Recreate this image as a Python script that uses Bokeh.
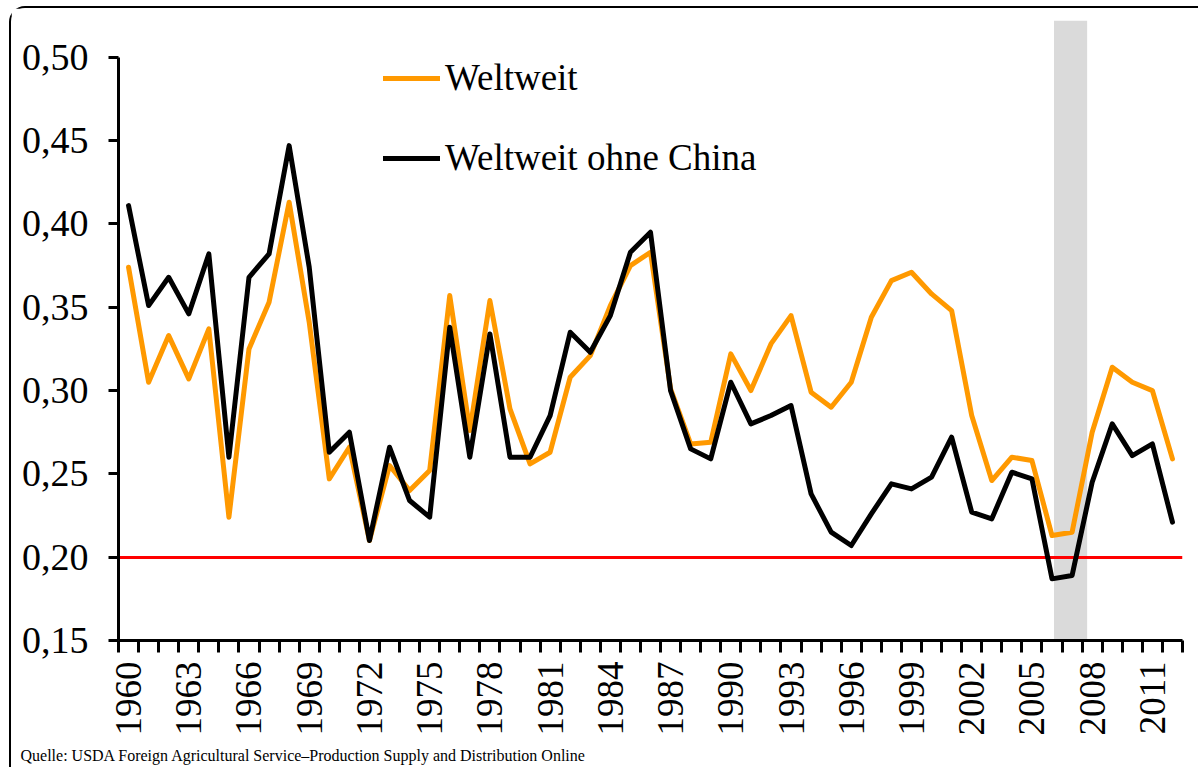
import math
from bokeh.plotting import figure
from bokeh.models import (FixedTicker, CustomJSTickFormatter, Legend, LegendItem,
                          Title)
from bokeh.embed import file_html
from bokeh.resources import INLINE

# ---------------- data ----------------
years = list(range(1960, 2013))
weltweit = [0.374, 0.305, 0.333, 0.307, 0.337, 0.224, 0.325, 0.353, 0.413, 0.341,
            0.247, 0.266, 0.210, 0.255, 0.240, 0.252, 0.357, 0.276, 0.354, 0.289,
            0.256, 0.263, 0.308, 0.321, 0.351, 0.375, 0.383, 0.301, 0.268, 0.269,
            0.322, 0.300, 0.328, 0.345, 0.299, 0.290, 0.305, 0.344, 0.366, 0.371,
            0.358, 0.348, 0.285, 0.246, 0.260, 0.258, 0.213, 0.215, 0.275, 0.314,
            0.305, 0.300, 0.259]
ohne_china = [0.411, 0.351, 0.368, 0.346, 0.382, 0.260, 0.368, 0.382, 0.447, 0.374,
              0.263, 0.275, 0.210, 0.266, 0.234, 0.224, 0.338, 0.260, 0.334, 0.260,
              0.260, 0.285, 0.335, 0.323, 0.345, 0.383, 0.395, 0.300, 0.265, 0.259,
              0.305, 0.280, 0.285, 0.291, 0.238, 0.215, 0.207, 0.226, 0.244, 0.241,
              0.248, 0.272, 0.227, 0.223, 0.251, 0.247, 0.187, 0.189, 0.245, 0.280,
              0.261, 0.268, 0.221]
x_tick_years = years[::3]
y_ticks = [0.15, 0.20, 0.25, 0.30, 0.35, 0.40, 0.45, 0.50]
threshold = [0.20]
band_start = [2006.1]
band_end = [2007.75]
legend_labels = ["Weltweit", "Weltweit ohne China"]
source_note = "Quelle: USDA Foreign Agricultural Service\u2013Production Supply and Distribution Online"

y_min, y_max = 0.15, 0.5221
x_min, x_max = years[0] - 0.5, years[-1] + 0.5
boundaries = [y - 0.5 for y in years] + [years[-1] + 0.5]

FONT = "Liberation Serif"
ORANGE = "#FF9900"

p = figure(width=1189, height=761, output_backend="svg", toolbar_location=None,
           x_range=(x_min, x_max), y_range=(y_min, y_max),
           min_border_left=107, min_border_right=18, min_border_top=12,
           min_border_bottom=127)
p.styles = {"border-top": "2px solid black", "border-left": "2px solid black",
            "border-top-left-radius": "16px", "margin-left": "9px",
            "margin-top": "6px"}

p.xgrid.visible = False
p.ygrid.visible = False
p.outline_line_color = None
p.background_fill_color = "white"
p.border_fill_color = "white"

# grey band
p.quad(left=band_start, right=band_end, bottom=[y_min], top=[y_max],
       fill_color="#DADADA", line_color=None)
# red threshold
p.hspan(y=threshold, line_color="#FF0000", line_width=3)

r1 = p.line(years, weltweit, line_color=ORANGE, line_width=5,
            line_join="round", line_cap="round")
r2 = p.line(years, ohne_china, line_color="black", line_width=5,
            line_join="round", line_cap="round")

# axes
xa = p.xaxis[0]
xa.ticker = FixedTicker(ticks=x_tick_years, minor_ticks=boundaries)
xa.bounds = (x_min, x_max)
xa.axis_line_width = 3
xa.axis_line_color = "black"
xa.major_tick_out = 0
xa.major_tick_in = 0
xa.minor_tick_in = 0
xa.minor_tick_out = 12
xa.minor_tick_line_width = 3
xa.minor_tick_line_color = "black"
xa.major_label_orientation = math.pi / 2
xa.major_label_standoff = 9
xa.major_label_text_font = FONT
xa.major_label_text_font_size = "37px"
xa.major_label_text_color = "black"

ya = p.yaxis[0]
ya.ticker = FixedTicker(ticks=y_ticks, minor_ticks=[])
ya.bounds = (y_ticks[0], y_ticks[-1])
ya.formatter = CustomJSTickFormatter(code="return tick.toFixed(2).replace('.', ',');")
ya.axis_line_width = 3
ya.axis_line_color = "black"
ya.major_tick_out = 10
ya.major_tick_in = 0
ya.major_tick_line_width = 3
ya.minor_tick_out = 0
ya.minor_tick_in = 0
ya.major_label_standoff = 20
ya.major_label_text_font = FONT
ya.major_label_text_font_size = "38px"
ya.major_label_text_color = "black"

legend = Legend(items=[LegendItem(label=legend_labels[0], renderers=[r1]),
                       LegendItem(label=legend_labels[1], renderers=[r2])],
                location=(265, 461), padding=0, margin=0, spacing=37,
                glyph_width=57, glyph_height=40, label_height=40, label_standoff=5,
                label_text_font=FONT, label_text_font_size="37px",
                label_text_color="black",
                border_line_color=None, background_fill_alpha=0)
p.add_layout(legend)

note = Title(text=source_note, align="left", offset=-98, standoff=12,
             text_font=FONT, text_font_size="16px", text_font_style="normal",
             text_color="black")
p.add_layout(note, "below")

open("out.html", "w").write(file_html(p, INLINE))
